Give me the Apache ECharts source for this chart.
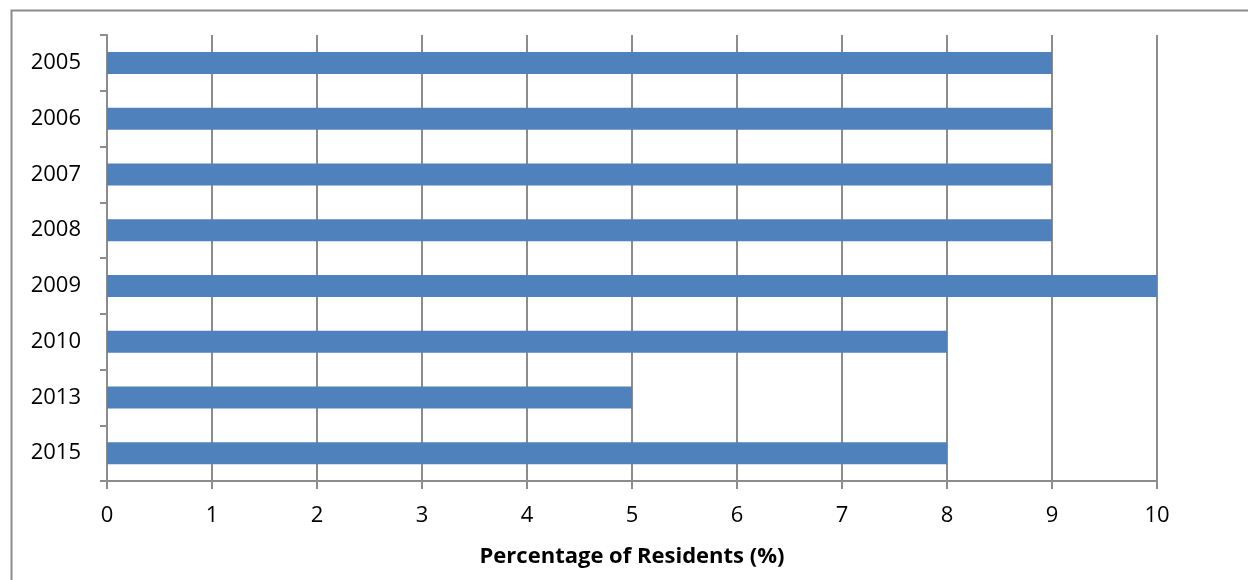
<!DOCTYPE html>
<html>
<head>
<meta charset="utf-8">
<script src="https://cdn.jsdelivr.net/npm/echarts@6/dist/echarts.min.js"></script>
<style>
html,body{margin:0;padding:0;background:#fff;}
#c{width:1248px;height:580px;}
</style>
</head>
<body>
<div id="c"></div>
<script>
const years = ['2005','2006','2007','2008','2009','2010','2013','2015'];
const values = [9, 9, 9, 9, 10, 8, 5, 8];
const xTicks = [0,1,2,3,4,5,6,7,8,9,10];
const xTitle = 'Percentage of Residents (%)';

const chart = echarts.init(document.getElementById('c'), null, {renderer:'canvas'});
const font = '"Open Sans", "Liberation Sans", sans-serif';
chart.setOption({
  animation: false,
  backgroundColor: '#fff',
  graphic: [{
    type: 'rect',
    shape: {x: 11.5, y: 10.5, width: 1400, height: 800},
    style: {fill: 'none', stroke: '#8c8c8c', lineWidth: 2},
    silent: true
  }],
  grid: {left: 107, top: 35, right: 91, bottom: 99, containLabel: false},
  xAxis: {
    type: 'value',
    min: xTicks[0],
    max: xTicks[xTicks.length-1],
    interval: 1,
    name: xTitle,
    nameLocation: 'middle',
    nameGap: 65,
    nameTextStyle: {fontFamily: font, fontSize: 22, fontWeight: 'bold', color: '#000'},
    axisLine: {show: true, lineStyle: {color: '#8c8c8c', width: 2}},
    axisTick: {show: true, length: 8, lineStyle: {color: '#8c8c8c', width: 2}},
    axisLabel: {fontFamily: font, fontSize: 22, color: '#000', margin: 24},
    splitLine: {show: true, lineStyle: {color: '#8c8c8c', width: 2}}
  },
  yAxis: {
    type: 'category',
    data: years,
    inverse: true,
    axisLine: {show: true, lineStyle: {color: '#8c8c8c', width: 2}},
    axisTick: {show: true, length: 7, lineStyle: {color: '#8c8c8c', width: 2}},
    axisLabel: {fontFamily: font, fontSize: 22, color: '#000', margin: 26},
    splitLine: {show: false}
  },
  series: [{
    type: 'bar',
    data: values,
    barWidth: 22,
    itemStyle: {color: '#4f81bd'}
  }]
});
</script>
</body>
</html>
